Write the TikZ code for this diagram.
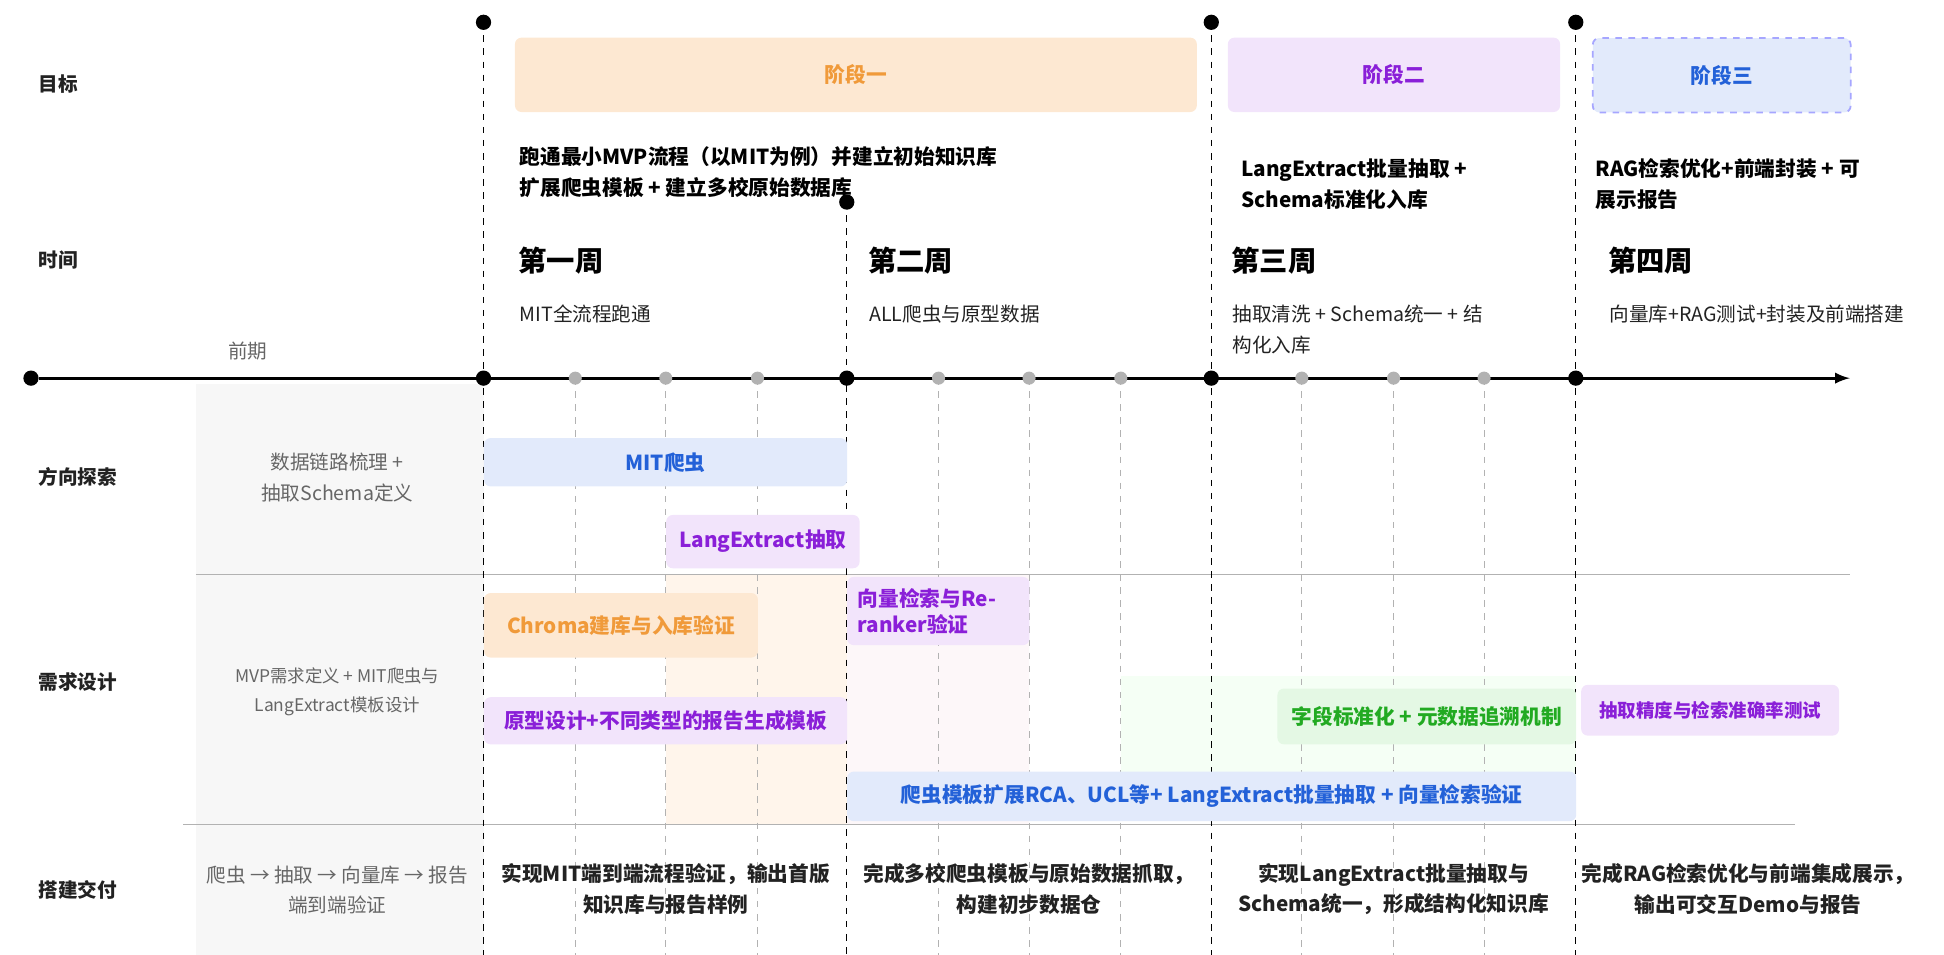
\documentclass[tikz,border=0pt]{standalone}
\usepackage{fontspec}
\setmainfont{Noto Sans CJK SC}
\newfontfamily\cjkb[FakeBold=0]{Noto Sans CJK SC Bold}
\definecolor{ink}{HTML}{222222}
\definecolor{greytext}{HTML}{666666}
\definecolor{orangefill}{HTML}{FDE8D2}
\definecolor{orangetext}{HTML}{F09A3A}
\definecolor{purplefill}{HTML}{F2E4FB}
\definecolor{purpletext}{HTML}{8A1FD8}
\definecolor{bluefill}{HTML}{E2EAFB}
\definecolor{bluetext}{HTML}{2361D8}
\definecolor{greenfill}{HTML}{E4F8E4}
\definecolor{greentext}{HTML}{22AA22}
\begin{document}
\begin{tikzpicture}[>=latex,x=0.02cm,y=-0.02cm,
  rowlabel/.style={anchor=west,font=\fontsize{9}{11}\selectfont\bfseries,text=ink},
  weekhead/.style={anchor=west,font=\fontsize{13}{15}\selectfont\bfseries,text=black},
  weeksub/.style={anchor=north west,font=\fontsize{9}{14}\selectfont,text=ink,align=left},
  goal/.style={anchor=north west,font=\fontsize{9.5}{14}\selectfont\bfseries,text=black,align=left},
  deliver/.style={font=\fontsize{9.5}{14}\selectfont\bfseries,text=ink,align=center},
  lefttext/.style={font=\fontsize{9}{14}\selectfont,text=greytext,align=center},
  bar/.style={rounded corners=3pt,font=\fontsize{9.5}{12}\selectfont\bfseries,inner sep=0pt},
  majordot/.style={circle,fill=black,inner sep=0pt,minimum size=7pt},
  minordot/.style={circle,fill=black!30,inner sep=0pt,minimum size=6pt}]
\useasboundingbox (0,0) rectangle (1568,770);
% backgrounds
\fill[black!3] (158,310) rectangle (390,770);
\fill[orange!8] (537,463) rectangle (683,665);
\fill[purple!3] (683,463) rectangle (830,665);
\fill[green!4] (904,545) rectangle (1271,630);
\draw[black!30] (158,463) -- (1492,463);
\draw[black!30] (148,665) -- (1448,665);
% grid lines
\foreach \x in {464,537,611,757,830,904,1050,1124,1197}
  \draw[black!30,dashed] (\x,305) -- (\x,770);
\draw[dashed] (390,18) -- (390,770);
\draw[dashed] (683,163) -- (683,770);
\draw[dashed] (977,18) -- (977,770);
\draw[dashed] (1271,18) -- (1271,770);
\node[majordot] (top1) at (390,18) {};
\node[majordot] (top2) at (683,163) {};
\node[majordot] (top3) at (977,18) {};
\node[majordot] (top4) at (1271,18) {};
% timeline
\coordinate (tend) at (1492,305);
\node[majordot] (t0) at (25,305) {};
\draw[line width=1.3pt,->] (t0) -- (tend);
\foreach \x/\n in {390/t1,683/t2,977/t3,1271/t4}
  \node[majordot] (\n) at (\x,305) {};
\foreach \x in {464,537,611,757,830,904,1050,1124,1197}
  \node[minordot] (m\x) at (\x,305) {};
% row labels
\node[rowlabel] (lgoal) at (25,68) {目标};
\node[rowlabel] (ltime) at (25,210) {时间};
\node[rowlabel] (lexplore) at (25,385) {方向探索};
\node[rowlabel] (ldesign) at (25,550) {需求设计};
\node[rowlabel] (lbuild) at (25,718) {搭建交付};
% phases
\node[bar,fill=orangefill,text=orangetext,minimum width=550*0.02cm,minimum height=60*0.02cm,anchor=north west] (phase1) at (415,30) {阶段一};
\node[bar,fill=purplefill,text=purpletext,minimum width=268*0.02cm,minimum height=60*0.02cm,anchor=north west] (phase2) at (990,30) {阶段二};
\node[bar,fill=bluefill,text=bluetext,draw=blue!35,dashed,thick,minimum width=208*0.02cm,minimum height=60*0.02cm,anchor=north west] (phase3) at (1284,30) {阶段三};
% goals
\node[goal] (goal1) at (413,112) {跑通最小MVP流程（以MIT为例）并建立初始知识库\\扩展爬虫模板 + 建立多校原始数据库};
\node[goal] (goal2) at (995,122) {LangExtract批量抽取 +\\Schema标准化入库};
\node[goal] (goal3) at (1281,122) {RAG检索优化+前端封装 + 可\\展示报告};
% weeks
\node[weekhead] (w1) at (412,210) {第一周};
\node[weekhead] (w2) at (694,210) {第二周};
\node[weekhead] (w3) at (987,210) {第三周};
\node[weekhead] (w4) at (1291,210) {第四周};
\node[weeksub] (s1) at (413,240) {MIT全流程跑通};
\node[weeksub] (s2) at (695,240) {ALL爬虫与原型数据};
\node[weeksub] (s3) at (988,240) {抽取清洗 + Schema统一 + 结\\构化入库};
\node[weeksub] (s4) at (1292,240) {向量库+RAG测试+封装及前端搭建};
\node[lefttext] (pre) at (200,283) {前期};
% left column
\node[lefttext] (c1) at (272,385) {数据链路梳理 +\\抽取Schema定义};
\node[lefttext,font=\fontsize{8}{13}\selectfont] (c2) at (272,558) {MVP需求定义 + MIT爬虫与\\LangExtract模板设计};
\node[lefttext] (c3) at (272,718) {爬虫 → 抽取 → 向量库 → 报告\\端到端验证};
% bars
\node[bar,fill=bluefill,text=bluetext,minimum width=293*0.02cm,minimum height=39*0.02cm,anchor=north west] (mit) at (390,353) {MIT爬虫};
\node[bar,fill=purplefill,text=purpletext,minimum width=156*0.02cm,minimum height=43*0.02cm,anchor=north west] (lang) at (537,415) {LangExtract抽取};
\node[bar,fill=orangefill,text=orangetext,minimum width=221*0.02cm,minimum height=52*0.02cm,anchor=north west] (chroma) at (390,478) {Chroma建库与入库验证};
\node[bar,fill=purplefill,text=purpletext,minimum width=293*0.02cm,minimum height=38*0.02cm,anchor=north west] (proto) at (390,562) {原型设计+不同类型的报告生成模板};
\node[bar,fill=purplefill,text=purpletext,minimum width=147*0.02cm,minimum height=55*0.02cm,anchor=north west,align=left,inner xsep=4pt] (rerank) at (683,465) {\parbox{130\dimexpr0.02cm\relax}{向量检索与Re-\\ranker验证}};
\node[bar,fill=greenfill,text=greentext,minimum width=241*0.02cm,minimum height=45*0.02cm,anchor=north west] (field) at (1030,555) {字段标准化 + 元数据追溯机制};
\node[bar,fill=purplefill,text=purpletext,minimum width=208*0.02cm,minimum height=41*0.02cm,anchor=north west,font=\fontsize{8.5}{11}\selectfont\bfseries] (acc) at (1275,552) {抽取精度与检索准确率测试};
\node[bar,fill=bluefill,text=bluetext,minimum width=588*0.02cm,minimum height=40*0.02cm,anchor=north west] (crawl) at (683,622) {爬虫模板扩展RCA、UCL等+ LangExtract批量抽取 + 向量检索验证};
% deliverables
\node[deliver] (d1) at (537,717) {实现MIT端到端流程验证，输出首版\\知识库与报告样例};
\node[deliver] (d2) at (830,717) {完成多校爬虫模板与原始数据抓取，\\构建初步数据仓};
\node[deliver] (d3) at (1124,717) {实现LangExtract批量抽取与\\Schema统一，形成结构化知识库};
\node[deliver] (d4) at (1410,717) {完成RAG检索优化与前端集成展示，\\输出可交互Demo与报告};
\end{tikzpicture}
\end{document}
